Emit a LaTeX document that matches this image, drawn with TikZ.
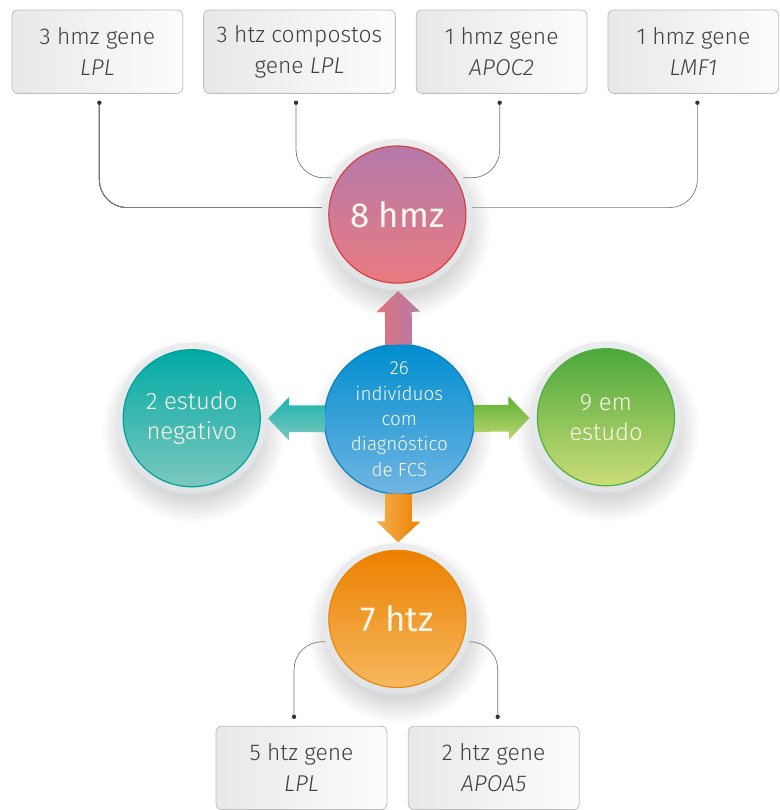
\documentclass[tikz,border=0pt]{standalone}
\usepackage{fontspec}
\setmainfont{Fira Sans}[UprightFont={* Light}, ItalicFont={* Light Italic}]
\newfontfamily\cheia{Fira Sans}
\usepackage{tikz}
\usetikzlibrary{shadows,positioning,calc}
\pgfdeclarelayer{background}
\pgfsetlayers{background,main}
\definecolor{borda}{HTML}{BEBEBE}
\definecolor{texto}{HTML}{404040}
\definecolor{creme}{HTML}{FFF8EA}
\definecolor{anel}{HTML}{E1E4E7}
\definecolor{linha}{HTML}{7A7A7A}
\definecolor{rosaA}{HTML}{B47AAB}
\definecolor{rosaB}{HTML}{EA7A80}
\definecolor{rosaC}{HTML}{D8403E}
\definecolor{azulA}{HTML}{008ECF}
\definecolor{azulB}{HTML}{70B5E2}
\definecolor{azulC}{HTML}{0A80C2}
\definecolor{verdeA}{HTML}{4AA83A}
\definecolor{verdeB}{HTML}{CCDD78}
\definecolor{verdeC}{HTML}{4FAE44}
\definecolor{tealA}{HTML}{00AAA5}
\definecolor{tealB}{HTML}{7CC8BF}
\definecolor{tealC}{HTML}{00A09B}
\definecolor{laranjaA}{HTML}{EC8000}
\definecolor{laranjaB}{HTML}{F6B85E}
\definecolor{laranjaC}{HTML}{EA8608}
\tikzstyle{caixa}=[draw=borda, line width=0.8pt, left color=black!9, right color=black!1,
  rounded corners=6pt, minimum width=172pt, minimum height=84pt, text=texto,
  align=center, font=\fontsize{23}{31}\selectfont]
\tikzstyle{anel}=[circle, minimum size=152pt, inner sep=0pt, top color=anel!70!white, bottom color=anel]
\tikzstyle{bola}=[circle, minimum size=138pt, inner sep=0pt, line width=1.2pt,
  text=creme, align=center]
\tikzstyle{grande}=[font=\cheia\fontsize{35}{40}\selectfont]
\tikzstyle{media}=[font=\fontsize{24}{30}\selectfont]
\tikzstyle{pequena}=[font=\fontsize{19}{25.5}\selectfont]
\tikzstyle{rosa}=[draw=rosaC, top color=rosaA, bottom color=rosaB]
\tikzstyle{azul}=[draw=azulC, top color=azulA, bottom color=azulB]
\tikzstyle{verde}=[draw=verdeC, top color=verdeA, bottom color=verdeB]
\tikzstyle{teal}=[draw=tealC, top color=tealA, bottom color=tealB]
\tikzstyle{laranja}=[draw=laranjaC, top color=laranjaA, bottom color=laranjaB]
\tikzstyle{liga}=[draw=linha, line width=0.7pt, rounded corners=28pt]
\tikzstyle{ponto}=[fill=black!80]
\newcommand{\caixa}[2]{node (#1)[caixa]{#2}}
\newcommand{\bola}[3]{node[anel]{} node (#1)[bola,#2]{#3}}
\newcommand{\sombra}[1]{% sombra suave por baixo do anel
\foreach \r in {68,70,...,92}
  \fill[black, opacity=0.011] ($(#1.center)+(2,13)$) circle (\r pt);}
\newcommand{\seta}[2]{% #1 destino, #2 cores
\coordinate (T) at ($(#1.center)!77pt!(cen.center)$);
\coordinate (C) at ($(cen.center)!75pt!(#1.center)$);
\coordinate (H) at ($(T)!21pt!(C)$);
\path[#2] (T) -- ($(H)!22pt!90:(T)$) -- ($(H)!13.5pt!90:(T)$)
  -- ($(C)!13.5pt!90:(T)$) -- ($(C)!13.5pt!-90:(T)$)
  -- ($(H)!13.5pt!-90:(T)$) -- ($(H)!22pt!-90:(T)$) -- cycle;}

\begin{document}
\begin{tikzpicture}[x=1pt,y=-1pt]
  \begin{pgfonlayer}{background}
    \path[use as bounding box, fill=white] (0,0) rectangle (772,810);
  \end{pgfonlayer}

  % caixas de cima
  \path (98,52) \caixa{b1}{3 hmz gene\\\textit{LPL}};
  \path (301.5,52) node (b2)[caixa, minimum width=193pt]{3 htz compostos\\gene \textit{LPL}};
  \path (505,52) \caixa{b3}{1 hmz gene\\\textit{APOC2}};
  \path (698,52) \caixa{b4}{1 hmz gene\\\textit{LMF1}};

  % circulos
  \path (400,216) \bola{hmz}{rosa,grande}{8 hmz};
  \path (hmz.center)+(2,206) \bola{cen}{azul,pequena}{26\\indivíduos\\com\\diagnóstico\\de FCS};
  \path (cen.center)+(-209,-1) \bola{neg}{teal,media}{2 estudo\\negativo};
  \path (cen.center)+(208,-2) \bola{est}{verde,media}{9 em\\estudo};
  \path (cen.center)+(-2,201) \bola{htz}{laranja,grande}{7 htz};

  % caixas de baixo
  \path (htz.center)+(-96.5,150) \caixa{b5}{5 htz gene\\\textit{LPL}};
  \path (htz.center)+(97,150) \caixa{b6}{2 htz gene\\\textit{APOA5}};

  % setas
  \seta{hmz}{left color=rosaB!95!black, right color=rosaA}
  \seta{neg}{top color=tealA!90!white, bottom color=tealB}
  \seta{est}{top color=verdeA!90!yellow, bottom color=verdeB!90!verdeA}
  \seta{htz}{left color=laranjaB!85!laranjaA, right color=laranjaA}

  % pontos e ligacoes
  \coordinate (d1) at ($(b1.south)+(2,9)$);
  \coordinate (d2) at ($(b2.south)+(-3.5,9)$);
  \coordinate (d3) at ($(b3.south)+(-2,9)$);
  \coordinate (d4) at ($(b4.south)+(4,9)$);
  \coordinate (d5) at ($(b5.north)+(-7.5,-9)$);
  \coordinate (d6) at ($(b6.north)+(4,-9)$);
  \foreach \d in {d1,d2,d3,d4,d5,d6}
    \fill[ponto] (\d) circle (2.2pt);
  \begin{pgfonlayer}{background}
    \foreach \b in {hmz,cen,neg,est,htz}
      \sombra{\b}
    \path[liga] (d1) |- ($(hmz.center)+(0,-7)$);
    \path[liga] (d2) |- ($(hmz.center)+(0,-37)$);
    \path[liga] (d3) |- ($(hmz.center)+(0,-37)$);
    \path[liga] (d4) |- ($(hmz.center)+(0,-7)$);
    \path[liga] (d5) |- ($(htz.center)+(0,23)$);
    \path[liga] (d6) |- ($(htz.center)+(0,23)$);
  \end{pgfonlayer}
\end{tikzpicture}
\end{document}
